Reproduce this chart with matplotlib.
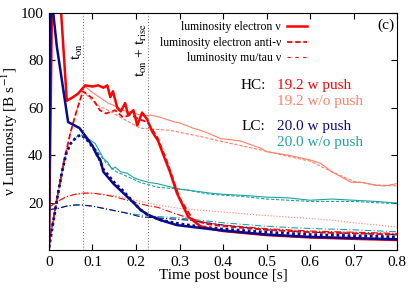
import numpy as np
import matplotlib
matplotlib.use("Agg")
import matplotlib.pyplot as plt
from matplotlib.lines import Line2D

plt.rcParams["font.family"] = "serif"
plt.rcParams["font.serif"] = ["Liberation Serif", "DejaVu Serif"]
plt.rcParams["mathtext.fontset"] = "stix"

# --- data (time post bounce [s], luminosity [B/s]) ---
# HC 19.2 w push
t_hc_e = [0, 0.01, 0.028, 0.041, 0.055, 0.067, 0.083, 0.1, 0.113, 0.125, 0.134, 0.141, 0.147,
          0.157, 0.165, 0.175, 0.182, 0.194, 0.203, 0.214, 0.226, 0.237, 0.251, 0.261, 0.278,
          0.294, 0.32, 0.348, 0.37, 0.4, 0.5, 0.6, 0.7, 0.8]
L_hc_e = [2, 150, 100, 63, 64.5, 66, 69.5, 69, 69.5, 68.5, 69.5, 64.5, 67, 60, 58.5, 62, 57,
          59, 52.6, 58, 55, 50, 46, 41, 33, 24, 14, 10, 9, 8, 6.3, 5.3, 4.7, 4.2]
t_hc_a = [0, 0.01, 0.02, 0.035, 0.05, 0.064, 0.078, 0.1, 0.117, 0.131, 0.152, 0.17, 0.187,
          0.21, 0.226, 0.249, 0.27, 0.3, 0.33, 0.36, 0.4, 0.5, 0.6, 0.7, 0.8]
L_hc_a = [3, 13, 23, 38, 50, 59, 67, 64, 59, 57.6, 59, 56, 57, 55, 54, 47.6, 38, 22, 13, 11,
          10, 8.5, 7.5, 7, 6.5]
t_hc_x = [0, 0.02, 0.04, 0.06, 0.08, 0.1, 0.12, 0.15, 0.18, 0.2, 0.22, 0.25, 0.28, 0.32,
          0.36, 0.4, 0.5, 0.6, 0.7, 0.8]
L_hc_x = [18, 20.5, 22.5, 23.5, 24, 24, 23.5, 22.5, 21, 20, 19, 18, 16, 13.5, 11.5, 10.5,
          9, 8, 7.5, 7]

# HC 19.2 w/o push
t_hcn_e = [0, 0.01, 0.028, 0.041, 0.055, 0.067, 0.083, 0.1, 0.12, 0.136, 0.15, 0.168, 0.19,
           0.22, 0.233, 0.256, 0.28, 0.302, 0.33, 0.348, 0.37, 0.394, 0.42, 0.44, 0.486, 0.5,
           0.55, 0.6, 0.624, 0.65, 0.67, 0.694, 0.72, 0.747, 0.77, 0.8]
L_hcn_e = [2, 150, 100, 63, 64.5, 66, 69, 66.5, 64, 62, 61, 59, 58, 56.5, 57, 56, 54.5, 53.5,
           51.5, 50.5, 49, 47, 46.5, 46, 43, 41.5, 40, 38, 36.6, 33, 31, 28.6, 28.5, 27.4, 27, 28]
t_hcn_a = [0, 0.01, 0.02, 0.035, 0.05, 0.064, 0.078, 0.1, 0.117, 0.136, 0.164, 0.198, 0.21,
           0.24, 0.279, 0.355, 0.417, 0.48, 0.55, 0.6, 0.65, 0.7, 0.75, 0.8]
L_hcn_a = [3, 13, 23, 38, 50, 59, 67, 63, 60.5, 59, 56, 52.6, 51.4, 51, 50.5, 47.6, 45, 42.5,
           39.5, 37.5, 33, 29, 27.5, 27]
t_hcn_x = [0, 0.02, 0.04, 0.06, 0.08, 0.1, 0.15, 0.2, 0.25, 0.3, 0.35, 0.4, 0.5, 0.6, 0.65,
           0.7, 0.8]
L_hcn_x = [18, 20.5, 22.5, 23.5, 24, 24, 23, 21, 19, 17.5, 16.8, 16, 14.5, 13.3, 12.6, 11.5, 9.7]

# LC 20.0 w push
t_lc_e = [0, 0.004, 0.018, 0.044, 0.07, 0.088, 0.1, 0.11, 0.118, 0.125, 0.148, 0.171, 0.194,
          0.21, 0.226, 0.256, 0.294, 0.348, 0.4, 0.5, 0.6, 0.7, 0.8]
L_lc_e = [1, 110, 86, 54, 51.5, 47, 44, 40, 38, 33, 28, 24, 20, 17, 15, 12.6, 10.5, 9.3, 8.2,
          6.5, 5.5, 5, 4.5]
t_lc_a = [0, 0.01, 0.02, 0.03, 0.04, 0.05, 0.065, 0.075, 0.09, 0.11, 0.125, 0.15, 0.17, 0.19,
          0.21, 0.23, 0.26, 0.3, 0.35, 0.4, 0.5, 0.6, 0.7, 0.8]
L_lc_a = [1, 12, 23, 33, 41, 45, 48, 48.5, 46, 41, 34, 28.5, 25, 21, 17, 14.5, 12.5, 11, 9.8,
          8.8, 7.5, 6.5, 6, 5.5]
t_lc_x = [0, 0.02, 0.04, 0.06, 0.075, 0.1, 0.14, 0.18, 0.21, 0.25, 0.32, 0.4, 0.5, 0.6, 0.7, 0.8]
L_lc_x = [17, 17.5, 18.5, 19, 19, 18.5, 17, 15.5, 14, 13.5, 12.6, 10.5, 8.5, 7.5, 7, 6.5]

# LC 20.0 w/o push
t_lcn_e = [0, 0.004, 0.018, 0.044, 0.07, 0.09, 0.106, 0.115, 0.125, 0.135, 0.145, 0.152, 0.165,
           0.18, 0.195, 0.21, 0.23, 0.249, 0.27, 0.302, 0.33, 0.371, 0.4, 0.45, 0.5, 0.55, 0.6,
           0.65, 0.7, 0.75, 0.8]
L_lcn_e = [1, 110, 86, 54, 51.5, 47, 45, 42, 38.7, 37, 34, 35, 33, 32.4, 30.5, 29.5, 28.5, 28,
           27, 25.7, 25, 24, 23.5, 23, 22.3, 22, 21, 21.5, 21, 20.5, 19.8]
t_lcn_a = [0, 0.01, 0.02, 0.03, 0.04, 0.05, 0.065, 0.075, 0.09, 0.11, 0.13, 0.155, 0.18, 0.21,
           0.249, 0.28, 0.317, 0.37, 0.45, 0.5, 0.6, 0.7, 0.8]
L_lcn_a = [1, 12, 23, 33, 41, 45, 48, 48.5, 46, 42, 37, 33, 31, 28.5, 26.5, 26, 25.3, 23.5,
           22.5, 21.5, 20.5, 20.5, 19.5]
t_lcn_x = [0, 0.02, 0.04, 0.06, 0.075, 0.1, 0.14, 0.18, 0.22, 0.3, 0.4, 0.5, 0.58, 0.7, 0.8]
L_lcn_x = [17, 17.5, 18.5, 19, 19, 18.5, 17, 15.5, 14.5, 13.5, 11.5, 10, 9.2, 8.5, 7.7]

t_on = 0.078
t_rise_end = 0.228

c_hc, c_hcn = "#ff0000", "#ff7f66"
c_lc, c_lcn = "#0a0a8c", "#1fa3a0"

fig = plt.figure(figsize=(4.15, 2.91), dpi=100)
ax = fig.add_axes([0.118, 0.141, 0.839, 0.814])

dash_a = (0, (3, 1.5))
dot_a = (0, (1, 1))
dashdot = (0, (6, 2, 1, 2))

# mu/tau first (thin, underneath)
ax.plot(t_hcn_x, L_hcn_x, color=c_hcn, lw=0.8, ls=":")
ax.plot(t_hc_x, L_hc_x, color=c_hc, lw=0.8, ls=dashdot)
ax.plot(t_lcn_x, L_lcn_x, color=c_lcn, lw=0.8, ls=dashdot)
ax.plot(t_lc_x, L_lc_x, color=c_lc, lw=0.8, ls=dashdot)

# without push (thin)
ax.plot(t_hcn_e, L_hcn_e, color=c_hcn, lw=0.8)
ax.plot(t_hcn_a, L_hcn_a, color=c_hcn, lw=0.8, ls=dash_a)
ax.plot(t_lcn_e, L_lcn_e, color=c_lcn, lw=0.8)
ax.plot(t_lcn_a, L_lcn_a, color=c_lcn, lw=0.8, ls=dash_a)

# with push (thick)
ax.plot(t_hc_a, L_hc_a, color=c_hc, lw=1.3, ls=dash_a)
ax.plot(t_lc_a, L_lc_a, color=c_lc, lw=2.0, ls=dot_a)
ax.plot(t_hc_e, L_hc_e, color=c_hc, lw=1.8)
ax.plot(t_lc_e, L_lc_e, color=c_lc, lw=1.8)

ax.axvline(t_on, color="0.4", lw=0.7, ls=(0, (1, 2)))
ax.axvline(t_rise_end, color="0.4", lw=0.7, ls=(0, (1, 2)))
ax.text(0.066, 87.5, r"t$_{\rm on}$", rotation=90, ha="center", va="top", fontsize=11)
ax.text(0.212, 95.5, r"t$_{\rm on}$ + t$_{\rm rise}$", rotation=90, ha="center", va="top",
        fontsize=11)

ax.set_xlim(0, 0.8)
ax.set_ylim(0, 100)
ax.set_xticks(np.arange(0, 0.81, 0.1))
ax.set_xticklabels(["0", "0.1", "0.2", "0.3", "0.4", "0.5", "0.6", "0.7", "0.8"])
ax.set_yticks([20, 40, 60, 80, 100])
ax.tick_params(direction="in", top=True, right=True, labelsize=11, length=4, pad=4)
ax.set_xlabel("Time post bounce [s]", fontsize=11, labelpad=0)
ax.set_ylabel(r"ν Luminosity [B s$^{-1}$]", fontsize=11)
ax.yaxis.set_label_coords(-0.082, 0.5)

handles = [Line2D([], [], color=c_hc, lw=1.8),
           Line2D([], [], color=c_hc, lw=1.3, ls=dash_a),
           Line2D([], [], color=c_hc, lw=0.8, ls=(0, (3, 4)))]
labels = ["luminosity electron ν", "luminosity electron anti-ν", "luminosity mu/tau ν"]
ax.legend(handles, labels, loc="upper right", bbox_to_anchor=(0.765, 1.0), frameon=False,
          markerfirst=False, fontsize=8.5, handlelength=1.7, handletextpad=0.5,
          labelspacing=0.3, borderaxespad=0.3)

ax.text(0.774, 94.7, "(c)", ha="center", va="center", fontsize=11)
ax.text(0.498, 69.5, "HC:", ha="right", va="center", fontsize=11)
ax.text(0.525, 69.5, "19.2 w push", color=c_hc, ha="left", va="center", fontsize=11)
ax.text(0.525, 62.7, "19.2 w/o push", color=c_hcn, ha="left", va="center", fontsize=11)
ax.text(0.498, 52.2, "LC:", ha="right", va="center", fontsize=11)
ax.text(0.525, 52.2, "20.0 w push", color=c_lc, ha="left", va="center", fontsize=11)
ax.text(0.525, 45.5, "20.0 w/o push", color=c_lcn, ha="left", va="center", fontsize=11)

fig.savefig("out.png", dpi=100)
